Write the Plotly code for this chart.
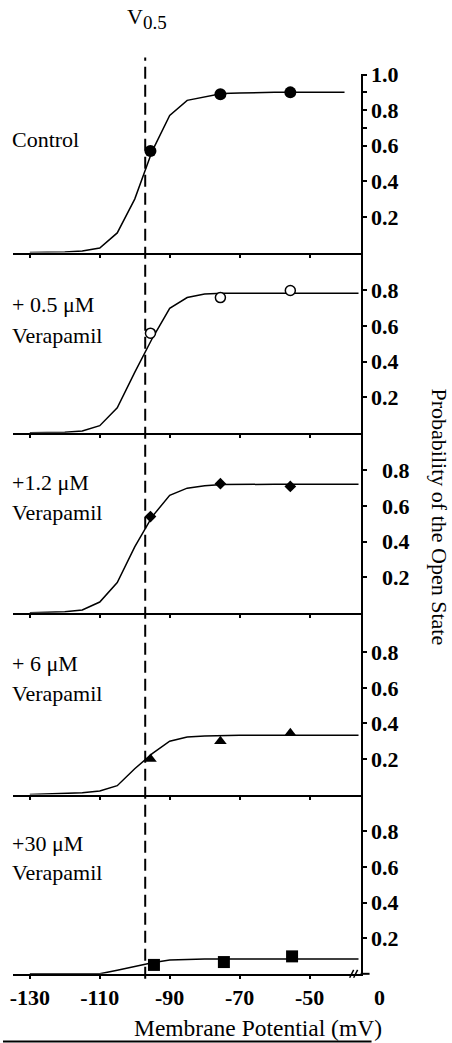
import plotly.graph_objects as go

# ---------------------------------------------------------------- data
# membrane potential (mV) of the measured points
v_points = [-95.5, -75.5, -55.5]
v_points_30 = [-94.5, -74.5, -55.0]

# open probability of the measured points
p_control = [0.57, 0.89, 0.90]
p_05 = [0.56, 0.76, 0.80]
p_12 = [0.54, 0.725, 0.71]
p_6 = [0.20, 0.30, 0.345]
p_30 = [0.05, 0.066, 0.098]

# Boltzmann fit curves, sampled every 5 mV
v_fit = [-130, -125, -120, -115, -110, -105, -100, -95, -90, -85,
         -80, -75, -70, -65, -60, -55, -50, -45, -40, -36]
fit_control = [0.0, 0.0, 0.003, 0.008, 0.025, 0.11, 0.30, 0.57, 0.77, 0.855,
               0.875, 0.893, 0.897, 0.90, 0.90, 0.90, 0.90, 0.90, 0.90]
fit_05 = [0.0, 0.0, 0.003, 0.01, 0.04, 0.14, 0.34, 0.53, 0.70, 0.76,
          0.78, 0.785, 0.785, 0.785, 0.785, 0.785, 0.785, 0.785, 0.785, 0.785]
fit_12 = [0.0, 0.002, 0.005, 0.015, 0.06, 0.17, 0.37, 0.54, 0.66, 0.70,
          0.713, 0.72, 0.722, 0.722, 0.722, 0.722, 0.722, 0.722, 0.722, 0.722]
fit_6 = [0.0, 0.002, 0.005, 0.01, 0.02, 0.05, 0.145, 0.23, 0.30, 0.324,
         0.33, 0.333, 0.333, 0.333, 0.333, 0.333, 0.333, 0.333, 0.333, 0.333]
fit_30 = [0.0, 0.0, 0.0, 0.0, 0.0, 0.02, 0.04, 0.062, 0.077, 0.082,
          0.083, 0.083, 0.083, 0.083, 0.083, 0.083, 0.083, 0.083, 0.083, 0.083]

V_HALF = -97  # half-activation potential

x_ticks = [-130, -110, -90, -70, -50]
x_tick_text = ["-130", "-110", "-90", "-70", "-50"]

panel_labels = [["Control"],
                ["+ 0.5 \u03bcM", "Verapamil"],
                ["+1.2 \u03bcM", "Verapamil"],
                ["+ 6 \u03bcM", "Verapamil"],
                ["+30 \u03bcM", "Verapamil"]]

y_ticks_top = [0.2, 0.4, 0.6, 0.8, 1.0]
y_minor_top = [0.7, 0.9]
y_ticks = [0.2, 0.4, 0.6, 0.8]

# ---------------------------------------------------------------- layout geometry (pixels)
W, H = 452, 1043
X_LEFT, X_AXIS = 10, 360          # horizontal extent of each panel
X_MIN, X_MAX = -134.83, -35.40    # mV at X_LEFT and X_AXIS
BASES = [243.3, 425.7, 607.7, 791.7, 973.0]
TOP = 62.7
PX_PER_UNIT = 180.0

FONT = "Liberation Serif, Times New Roman, serif"
NBSP = "\u00a0"


def fx(px):
    return px / W


def fy(py):
    return 1 - py / H


series = [
    dict(fit=fit_control, fit_v=v_fit[:-1], v=v_points, p=p_control,
         marker=dict(symbol="circle", size=12, color="black")),
    dict(fit=fit_05, fit_v=v_fit, v=v_points, p=p_05,
         marker=dict(symbol="circle", size=10, color="white",
                     line=dict(color="black", width=1.5))),
    dict(fit=fit_12, fit_v=v_fit, v=v_points, p=p_12,
         marker=dict(symbol="diamond", size=9, color="black")),
    dict(fit=fit_6, fit_v=v_fit, v=v_points, p=p_6,
         marker=dict(symbol="triangle-up", size=11, color="black")),
    dict(fit=fit_30, fit_v=v_fit, v=v_points_30, p=p_30,
         marker=dict(symbol="square", size=12, color="black")),
]

fig = go.Figure()
layout = dict(
    width=W, height=H, autosize=False,
    margin=dict(l=0, r=0, t=0, b=0),
    paper_bgcolor="white", plot_bgcolor="white",
    showlegend=False,
    font=dict(family=FONT, size=22, color="black"),
)

for i, s in enumerate(series):
    n = i + 1
    xs = "" if n == 1 else str(n)
    xo, yo = str(n + 5), str(n + 5)
    top = TOP if i == 0 else BASES[i - 1]
    y_max = (BASES[i] - top) / PX_PER_UNIT

    fig.add_trace(go.Scatter(x=s["fit_v"], y=s["fit"], mode="lines",
                             line=dict(color="black", width=1.5),
                             xaxis="x" + xs, yaxis="y" + xs, hoverinfo="skip"))
    fig.add_trace(go.Scatter(x=s["v"], y=s["p"], mode="markers",
                             marker=s["marker"], cliponaxis=False,
                             xaxis="x" + xs, yaxis="y" + xs))

    # baseline of each panel: ticks cross the line (outside + inside overlay)
    x_common = dict(domain=[fx(X_LEFT), fx(X_AXIS)], range=[X_MIN, X_MAX],
                    tickvals=x_ticks, showgrid=False, zeroline=False,
                    tickcolor="black", tickwidth=1.5, ticklen=3)
    layout["xaxis" + xs] = dict(
        x_common, anchor="y" + xs, showline=True, linecolor="black",
        linewidth=2, ticks="outside",
        showticklabels=(i == 4), ticktext=x_tick_text,
        tickfont=dict(family=FONT, size=22, weight="bold"),
        ticklabelstandoff=0)
    layout["xaxis" + xo] = dict(
        x_common, anchor="y" + xs, overlaying="x" + xs, ticks="inside",
        showline=False, showticklabels=False)

    # right-hand probability scale of each panel
    tv = y_ticks_top if i == 0 else y_ticks
    pad = NBSP * 2 if i == 2 else ""
    tt = [pad + f"{v:.1f}" for v in tv]
    minor = dict(tickvals=y_minor_top, ticklen=4, tickwidth=1.5,
                 tickcolor="black") if i == 0 else None
    y_common = dict(domain=[fy(BASES[i]), fy(top)], range=[0, y_max],
                    tickvals=tv, showgrid=False, zeroline=False,
                    tickcolor="black", tickwidth=1.5, ticklen=4, side="right")
    y_main = dict(y_common, anchor="x" + xs, showline=True, linecolor="black",
                  linewidth=2, ticks="outside", ticktext=tt,
                  tickfont=dict(family=FONT, size=22, weight="bold"))
    y_over = dict(y_common, anchor="x" + xs, overlaying="y" + xs,
                  ticks="inside", showline=False, showticklabels=False)
    if minor:
        y_main["minor"] = dict(minor, ticks="outside")
        y_over["minor"] = dict(minor, ticks="inside")
    layout["yaxis" + xs] = y_main
    layout["yaxis" + yo] = y_over

fig.update_layout(**layout)

# panel captions
label_y = [[129], [296, 327], [476, 506], [659, 689], [841, 871]]
annotations = []
for lines, ys in zip(panel_labels, label_y):
    for text, py in zip(lines, ys):
        annotations.append(dict(text=text, x=fx(7), y=fy(py), xref="paper",
                                yref="paper", xanchor="left", yanchor="middle",
                                showarrow=False, font=dict(size=22)))

annotations += [
    dict(text="V<sub><span style='font-size:19px'>0.5</span></sub>",
         x=fx(145), y=fy(7), xref="paper", yref="paper",
         xanchor="center", yanchor="middle", showarrow=False, font=dict(size=22)),
    dict(text="0", x=fx(379.5), y=fy(997), xref="paper", yref="paper",
         xanchor="center", yanchor="middle", showarrow=False,
         font=dict(size=22, weight="bold")),
    dict(text="Membrane Potential (mV)", x=fx(257), y=fy(1028), xref="paper",
         yref="paper", xanchor="center", yanchor="middle", showarrow=False,
         font=dict(size=23.5)),
    dict(text="Probability of the Open State", x=fx(439), y=fy(510.5),
         xref="paper", yref="paper", xanchor="center", yanchor="middle",
         textangle=90, showarrow=False, font=dict(size=22)),
]
fig.update_layout(annotations=annotations)

# half-activation marker, axis break and rule below the axis title
shapes = [
    dict(type="line", xref="x5", yref="paper", x0=V_HALF, x1=V_HALF,
         y0=fy(978), y1=fy(46), line=dict(color="black", width=2, dash="12px,6px")),
    dict(type="line", xref="paper", yref="paper", x0=fx(X_AXIS), x1=fx(369),
         y0=fy(BASES[4]), y1=fy(BASES[4]), line=dict(color="black", width=2)),
    dict(type="line", xref="paper", yref="paper", x0=fx(349), x1=fx(353),
         y0=fy(977), y1=fy(969), line=dict(color="black", width=1.5)),
    dict(type="line", xref="paper", yref="paper", x0=fx(353), x1=fx(357),
         y0=fy(977), y1=fy(969), line=dict(color="black", width=1.5)),
    dict(type="line", xref="paper", yref="paper", x0=fx(0), x1=fx(371),
         y0=fy(1041.5), y1=fy(1041.5), line=dict(color="black", width=2)),
]
fig.update_layout(shapes=shapes)

fig.write_html("out.html")
